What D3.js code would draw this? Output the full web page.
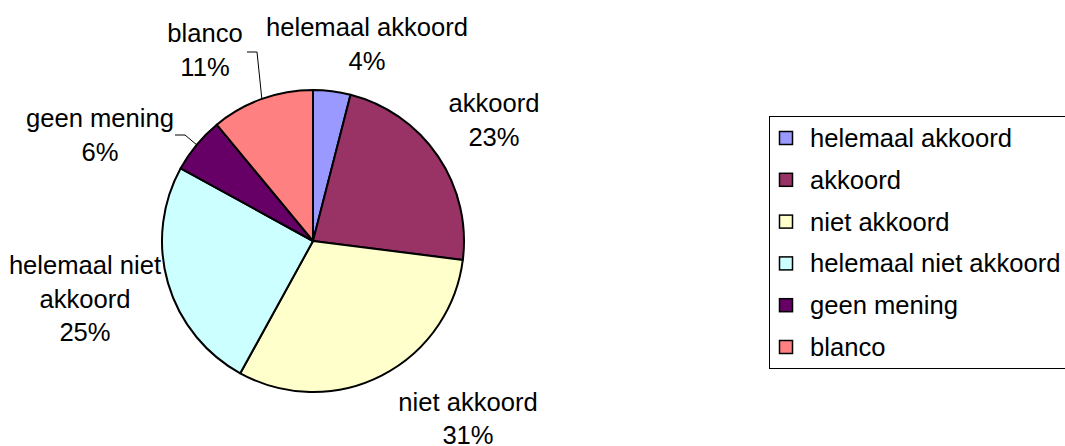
<!doctype html>
<html>
<head>
  <meta charset="utf-8">
  <title>Pie chart</title>
  <script src="https://cdnjs.cloudflare.com/ajax/libs/d3/7.8.5/d3.min.js"></script>
  <style>
    body { margin: 0; background: #fff; }
    text { font-family: "Liberation Sans", Arial, sans-serif; font-size: 25.6px; fill: #000; }
  </style>
</head>
<body>
  <div id="chart"></div>
  <script>
    // data
    const categories = ['helemaal akkoord', 'akkoord', 'niet akkoord', 'helemaal niet akkoord', 'geen mening', 'blanco'];
    const percents = [4, 23, 31, 25, 6, 11];
    const colors = ['#9999FF', '#993366', '#FFFFCC', '#CCFFFF', '#660066', '#FF8080'];
    // how Excel wrapped the slice labels
    const labelLines = [
      ['helemaal akkoord'],
      ['akkoord'],
      ['niet akkoord'],
      ['helemaal niet', 'akkoord'],
      ['geen mening'],
      ['blanco']
    ];

    // layout: centre x / first baseline of each label block
    const labelPos = [[367, 36], [494, 112], [468, 411], [85, 274], [100, 127], [205, 42]];
    const leaders = { 4: [175, 185, 135], 5: [247, 257, 52] };

    const W = 1065, H = 446;
    const cx = 313, cy = 241, R = 151;
    const lineH = 33.5;

    const svg = d3.select('#chart').append('svg')
      .attr('width', W).attr('height', H);

    const items = categories.map((c, i) => ({ name: c, value: percents[i], i: i }));

    const pie = d3.pie().sort(null).value(d => d.value);
    const arcs = pie(items);
    const arc = d3.arc().innerRadius(0).outerRadius(R);
    const edge = d3.arc().innerRadius(R).outerRadius(R);

    const g = svg.append('g').attr('transform', `translate(${cx},${cy})`);

    g.selectAll('path.slice')
      .data(arcs)
      .join('path')
      .attr('class', 'slice')
      .attr('d', arc)
      .attr('fill', d => colors[d.data.i])
      .attr('stroke', '#000')
      .attr('stroke-width', 2)
      .attr('stroke-linejoin', 'round');

    // leader lines for the small slices
    arcs.forEach(a => {
      const l = leaders[a.data.i];
      if (!l) return;
      const p = edge.centroid(a);
      svg.append('polyline')
        .attr('points', `${l[0]},${l[2]} ${l[1]},${l[2]} ${cx + p[0]},${cy + p[1]}`)
        .attr('fill', 'none')
        .attr('stroke', '#000')
        .attr('stroke-width', 1);
    });

    // slice labels
    arcs.forEach(a => {
      const i = a.data.i;
      const lines = labelLines[i].concat([d3.format('.0f')(a.data.value) + '%']);
      const t = svg.append('text')
        .attr('text-anchor', 'middle')
        .attr('x', labelPos[i][0])
        .attr('y', labelPos[i][1]);
      lines.forEach((s, k) => {
        t.append('tspan')
          .attr('x', labelPos[i][0])
          .attr('dy', k === 0 ? 0 : (i === 2 ? 33 : lineH))
          .text(s);
      });
    });

    // legend
    const lx = 769, ly = 116, rowH = 41.8;
    svg.append('rect')
      .attr('x', lx + 0.5).attr('y', ly + 0.5)
      .attr('width', 310).attr('height', 252)
      .attr('fill', '#fff')
      .attr('stroke', '#000')
      .attr('stroke-width', 1);

    const leg = svg.selectAll('g.leg')
      .data(items)
      .join('g')
      .attr('class', 'leg')
      .attr('transform', (d, i) => `translate(${lx}, ${ly + 22 + i * rowH})`);

    leg.append('rect')
      .attr('x', 10.5).attr('y', -6.5)
      .attr('width', 13).attr('height', 13)
      .attr('fill', d => colors[d.i])
      .attr('stroke', '#000')
      .attr('stroke-width', 1.5);

    leg.append('text')
      .attr('x', 41)
      .attr('y', 9)
      .text(d => d.name);
  </script>
</body>
</html>
